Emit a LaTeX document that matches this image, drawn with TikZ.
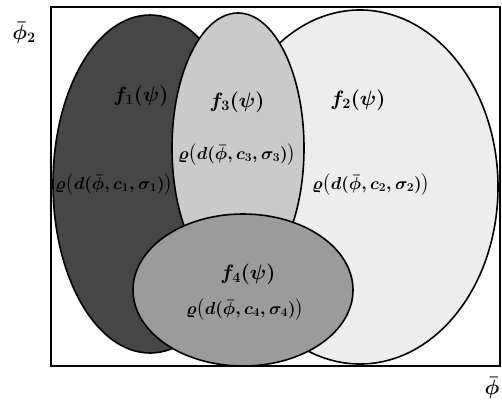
\documentclass[tikz,border=0pt]{standalone}
\usepackage{amsmath,amssymb}
\usepackage{tikz}
\usetikzlibrary{positioning}
\definecolor{setone}{HTML}{464646}
\definecolor{settwo}{HTML}{EDEDED}
\definecolor{setthree}{HTML}{CACACA}
\definecolor{setfour}{HTML}{9B9B9B}

\begin{document}
\begin{tikzpicture}[x=1pt, y=-1pt, line width=1.6pt,
    every node/.style={font=\fontsize{18}{20}\selectfont\boldmath, inner sep=0pt},
    setname/.style={font=\fontsize{22}{24}\selectfont\boldmath}]
  \useasboundingbox (0,0) rectangle (502,406);
  % the four sets, back to front
  \foreach \cx/\cy/\rx/\ry/\col in {150/184/97/169/setone, 360/187/138/177/settwo,
                                    238/148/66/135/setthree, 243/290/110/76/setfour} {
    \filldraw[fill=\col] (\cx,\cy) ellipse [x radius=\rx, y radius=\ry];
  }
  \draw (51,7) rectangle (500,366);
  \foreach \i/\x/\y in {1/141/96, 3/237/102, 2/358/100, 4/248/274} {
    \node[setname] (f\i) at (\x,\y) {$f_{\i}(\psi)$};
  }
  \foreach \i/\x/\y in {1/114/185, 3/237/155, 2/371/185, 4/245/310} {
    \node (rho\i) at (\x,\y) {$\varrho\bigl(d(\bar{\phi},c_{\i},\sigma_{\i})\bigr)$};
  }
  \node[setname] (ytitle) at (24,33) {$\bar{\phi}_2$};
  \node[setname] (xtitle) at (492,388) {$\bar{\phi}$};
\end{tikzpicture}
\end{document}
